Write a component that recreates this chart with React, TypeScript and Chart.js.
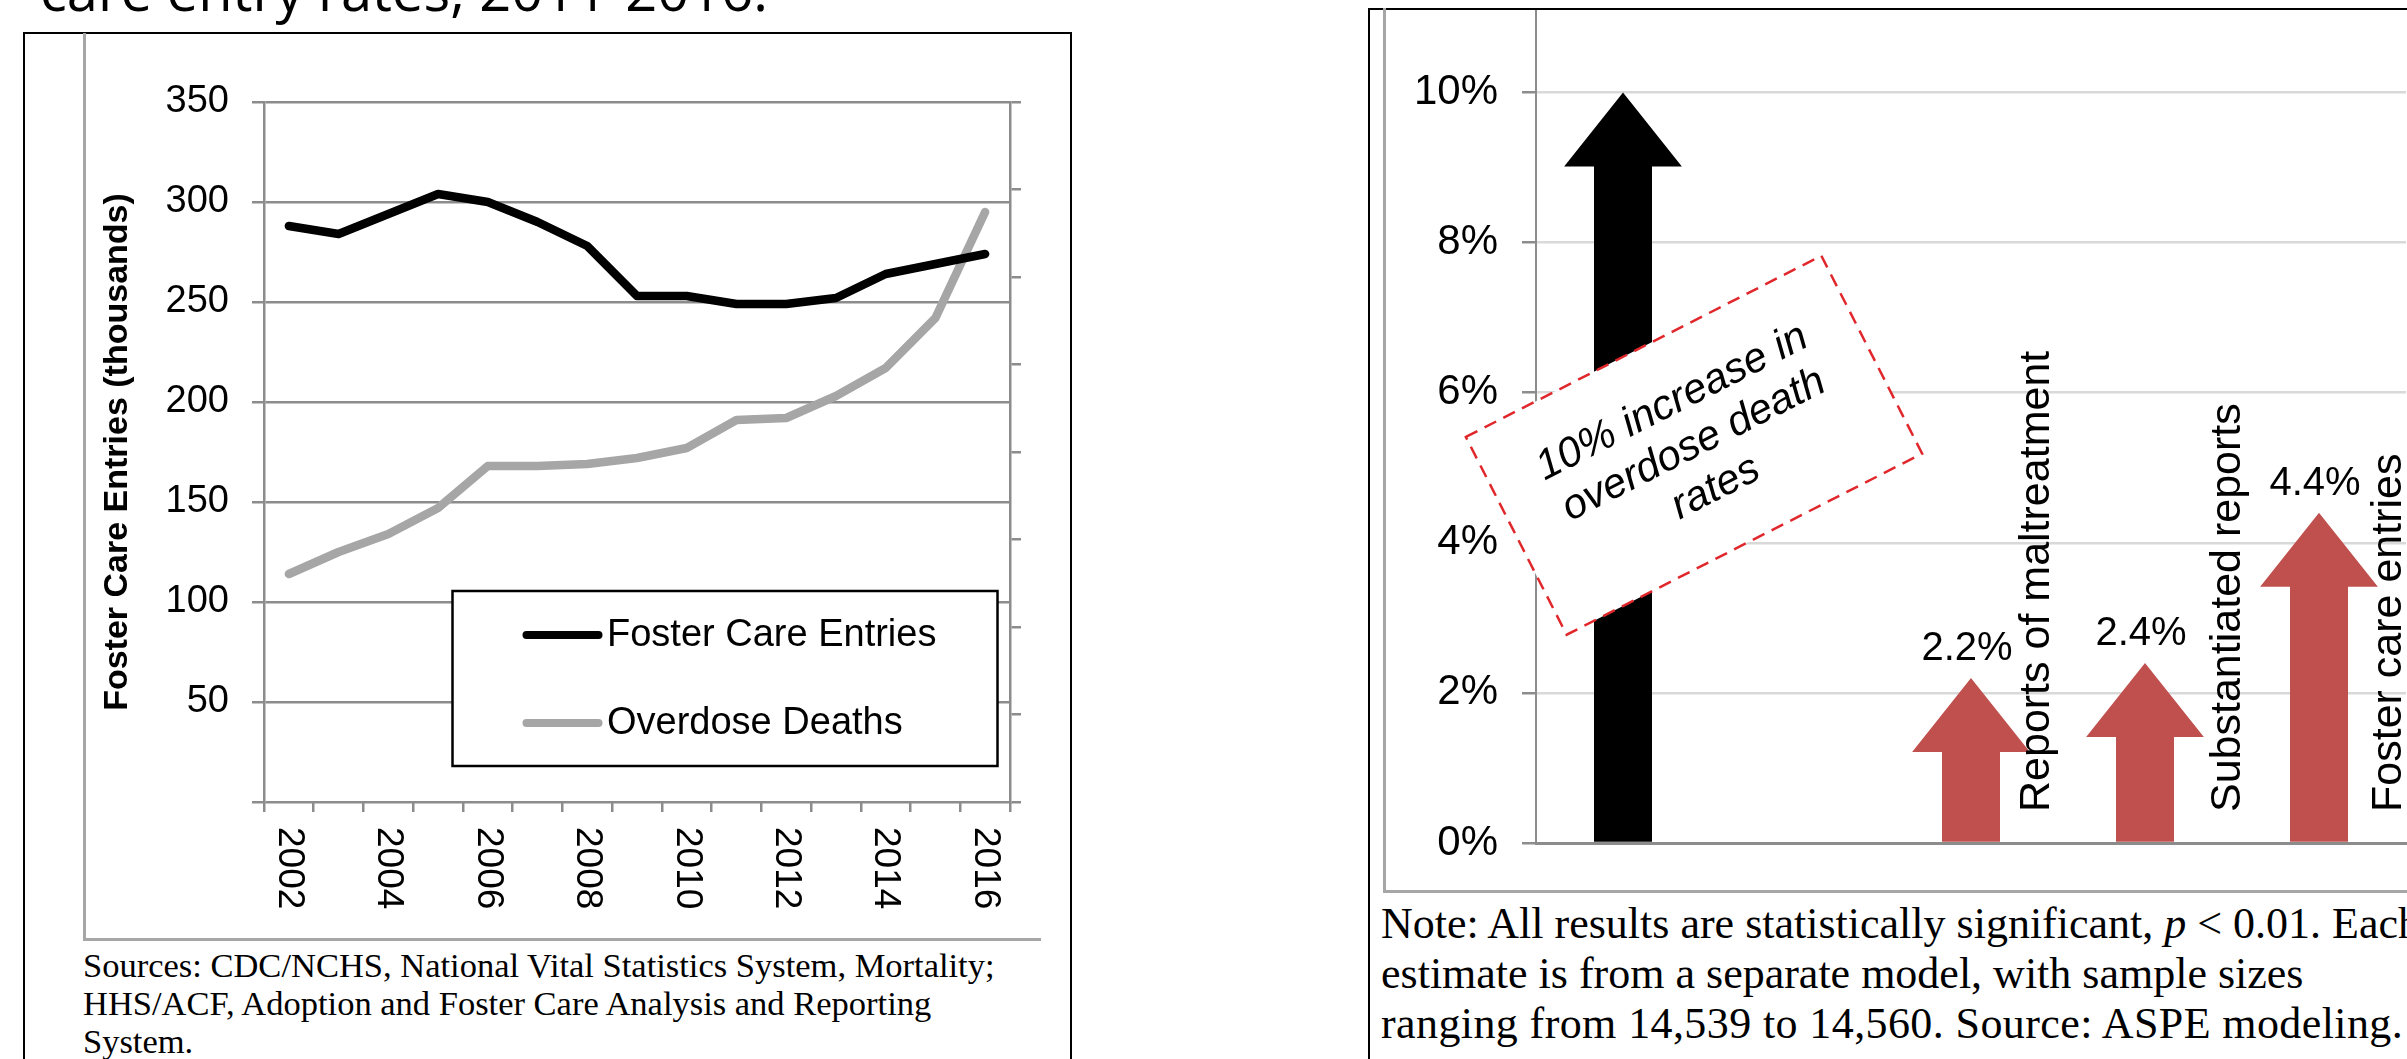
import React, { useEffect, useRef } from 'react';
import { Chart, registerables } from 'chart.js';

Chart.register(...registerables);

// ---------- data ----------
const years = ['2002', '2003', '2004', '2005', '2006', '2007', '2008', '2009', '2010', '2011', '2012', '2013', '2014', '2015', '2016'];
const fosterCareEntries = [288, 284, 294, 304, 300, 290, 278, 253, 253, 249, 249, 252, 264, 269, 274];
const overdoseDeaths = [114, 125, 134, 147, 168, 168, 169, 172, 177, 191, 192, 203, 217, 242, 295];
const leftAxisMax = 350;
const leftAxisStep = 50;
const rightAxisTickCount = 8;

const effectCategories = ['Overdose death rates', '', 'Reports of maltreatment', 'Substantiated reports', 'Foster care entries'];
const effectValues: (number | null)[] = [10, null, 2.2, 2.4, 4.4];
const effectValueLabels = ['', '', '2.2%', '2.4%', '4.4%'];
const percentTicks = [0, 2, 4, 6, 8, 10];
const exposureLines = ['10% increase in', 'overdose death', 'rates'];
const exposureBoxCenterValue = 5.3;

const titleText = 'care entry rates, 2011-2016.';
const leftCaption = [
  'Sources: CDC/NCHS, National Vital Statistics System, Mortality;',
  'HHS/ACF, Adoption and Foster Care Analysis and Reporting',
  'System.',
];

// ---------- styles ----------
const SANS = '"Liberation Sans", Arial, sans-serif';
const SERIF = '"Liberation Serif", "Times New Roman", serif';
const GRID = '#8c8c8c';
const LIGHT_GRID = '#d9d9d9';
const arrowColors = ['#000000', '#000000', '#c0504d', '#c0504d', '#c0504d'];
const categoryLabelNudges = [0, 0, 66, 83, 70];

const leftDecor = {
  id: 'leftDecor',
  afterDraw(chart: any) {
    const ctx = chart.ctx;
    const ca = chart.chartArea;
    const xs = chart.scales.x;
    ctx.save();
    // rotated year labels (every other year)
    ctx.fillStyle = '#000';
    ctx.font = `37px ${SANS}`;
    ctx.textAlign = 'left';
    ctx.textBaseline = 'middle';
    (chart.data.labels as string[]).forEach((lab, i) => {
      if (i % 2 !== 0) return;
      const x = xs.getPixelForValue(i);
      ctx.save();
      ctx.translate(x, ca.bottom + 25);
      ctx.rotate(Math.PI / 2);
      ctx.fillText(lab, 0, 0);
      ctx.restore();
    });
    // legend
    const lx = ca.left + 188.5;
    const ly = ca.top + 489;
    const lw = 545;
    const lh = 175;
    ctx.fillStyle = '#fff';
    ctx.fillRect(lx, ly, lw, lh);
    ctx.strokeStyle = '#000';
    ctx.lineWidth = 2.5;
    ctx.strokeRect(lx, ly, lw, lh);
    chart.data.datasets.forEach((ds: any, i: number) => {
      const cy = ly + 44 + i * 88;
      ctx.strokeStyle = ds.borderColor;
      ctx.lineWidth = 8;
      ctx.lineCap = 'round';
      ctx.beginPath();
      ctx.moveTo(lx + 74, cy);
      ctx.lineTo(lx + 146, cy);
      ctx.stroke();
      ctx.fillStyle = '#000';
      ctx.font = `38px ${SANS}`;
      ctx.textAlign = 'left';
      ctx.textBaseline = 'middle';
      ctx.fillText(ds.label, lx + 154.5, cy + 1);
    });
    ctx.restore();
  },
};

const arrowPlugin = {
  id: 'arrowPlugin',
  beforeDatasetsDraw() {
    return false;
  },
  afterDraw(chart: any) {
    const ctx = chart.ctx;
    const ys = chart.scales.y;
    const ca = chart.chartArea;
    const meta = chart.getDatasetMeta(0);
    ctx.save();
    const headH = 74;
    meta.data.forEach((el: any, i: number) => {
      if (effectValues[i] == null) return;
      const { x, y, base, width } = el.getProps(['x', 'y', 'base', 'width'], true);
      const headW = width * 2.03;
      ctx.fillStyle = arrowColors[i];
      ctx.beginPath();
      ctx.moveTo(x - width / 2, base);
      ctx.lineTo(x - width / 2, y + headH);
      ctx.lineTo(x - headW / 2, y + headH);
      ctx.lineTo(x, y);
      ctx.lineTo(x + headW / 2, y + headH);
      ctx.lineTo(x + width / 2, y + headH);
      ctx.lineTo(x + width / 2, base);
      ctx.closePath();
      ctx.fill();
    });
    // dashed annotation box over the first arrow
    const first = meta.data[0];
    const cx = first.x + 71;
    const cy = ys.getPixelForValue(exposureBoxCenterValue);
    ctx.save();
    ctx.translate(cx, cy);
    ctx.rotate((-27 * Math.PI) / 180);
    ctx.fillStyle = '#fff';
    ctx.fillRect(-199.5, -111, 399, 222);
    ctx.setLineDash([13, 8]);
    ctx.strokeStyle = '#e0282c';
    ctx.lineWidth = 2.5;
    ctx.strokeRect(-199.5, -111, 399, 222);
    ctx.setLineDash([]);
    ctx.fillStyle = '#000';
    ctx.font = `italic 42px ${SANS}`;
    ctx.textAlign = 'center';
    ctx.textBaseline = 'middle';
    exposureLines.forEach((l, k) => ctx.fillText(l, 0, (k - 1) * 48));
    ctx.restore();
    // value labels and rotated category labels
    meta.data.forEach((el: any, i: number) => {
      if (effectValues[i] == null || i === 0) return;
      const { x, y } = el.getProps(['x', 'y'], true);
      ctx.fillStyle = '#000';
      ctx.font = `40px ${SANS}`;
      ctx.textAlign = 'center';
      ctx.textBaseline = 'alphabetic';
      ctx.fillText(effectValueLabels[i], x - 4, y - 18);
      ctx.save();
      ctx.translate(x + categoryLabelNudges[i], ca.bottom - 31);
      ctx.rotate(-Math.PI / 2);
      ctx.font = `43px ${SANS}`;
      ctx.textAlign = 'left';
      ctx.textBaseline = 'middle';
      ctx.fillText(chart.data.labels[i], 0, 0);
      ctx.restore();
    });
    ctx.restore();
  },
};

export default function App() {
  const leftRef = useRef<HTMLCanvasElement>(null);
  const rightRef = useRef<HTMLCanvasElement>(null);

  useEffect(() => {
    const left = new Chart(leftRef.current as HTMLCanvasElement, {
      type: 'line',
      data: {
        labels: years,
        datasets: [
          {
            label: 'Foster Care Entries',
            data: fosterCareEntries,
            borderColor: '#000000',
            borderWidth: 8.5,
            pointRadius: 0,
            tension: 0,
            borderJoinStyle: 'round',
            borderCapStyle: 'round',
            yAxisID: 'y',
          },
          {
            label: 'Overdose Deaths',
            data: overdoseDeaths,
            borderColor: '#a6a6a6',
            borderWidth: 8.5,
            pointRadius: 0,
            tension: 0,
            borderJoinStyle: 'round',
            borderCapStyle: 'round',
            yAxisID: 'y',
          },
        ],
      },
      options: {
        animation: false,
        responsive: false,
        devicePixelRatio: 1,
        layout: { padding: { top: 69, left: 0, right: 0, bottom: 0 } },
        plugins: { legend: { display: false }, tooltip: { enabled: false } },
        scales: {
          x: {
            type: 'category',
            offset: true,
            grid: { offset: true, drawOnChartArea: false, drawTicks: true, tickLength: 10, color: GRID, lineWidth: 2.5 },
            border: { display: false },
            ticks: { display: false },
            afterFit: (s: any) => {
              s.height = 139;
              s.paddingLeft = 0;
              s.paddingRight = 0;
            },
          },
          y: {
            min: 0,
            max: leftAxisMax,
            ticks: {
              stepSize: leftAxisStep,
              callback: (v: any) => (v === 0 ? '' : String(v)),
              font: { family: SANS, size: 38 },
              color: '#000',
              padding: 23,
            },
            grid: { color: GRID, lineWidth: 2.5, tickLength: 12, tickColor: GRID },
            border: { color: GRID, width: 2.5 },
            title: {
              display: true,
              text: 'Foster Care Entries (thousands)',
              font: { family: SANS, size: 34, weight: 'bold' },
              color: '#000',
              padding: { top: 14, bottom: 0 },
            },
            afterFit: (s: any) => {
              s.width = 181;
              s.paddingTop = 0;
              s.paddingBottom = 0;
            },
          },
          y1: {
            position: 'right',
            min: 0,
            max: rightAxisTickCount,
            ticks: { stepSize: 1, display: false },
            grid: { drawOnChartArea: false, tickLength: 11, color: GRID, lineWidth: 2.5 },
            border: { color: GRID, width: 2.5 },
            afterFit: (s: any) => {
              s.width = 31;
              s.paddingTop = 0;
              s.paddingBottom = 0;
            },
          },
        },
      } as any,
      plugins: [leftDecor],
    });

    const right = new Chart(rightRef.current as HTMLCanvasElement, {
      type: 'bar',
      data: {
        labels: effectCategories,
        datasets: [
          {
            data: effectValues,
            backgroundColor: arrowColors,
            categoryPercentage: 1,
            barPercentage: 58 / 174,
          },
        ],
      },
      options: {
        animation: false,
        responsive: false,
        devicePixelRatio: 1,
        layout: { padding: { top: 0, left: 0, right: 27, bottom: 0 } },
        plugins: { legend: { display: false }, tooltip: { enabled: false } },
        scales: {
          x: {
            grid: { display: false },
            border: { display: true, color: GRID, width: 3 },
            ticks: { display: false },
            afterFit: (s: any) => {
              s.height = 47;
              s.paddingLeft = 0;
              s.paddingRight = 0;
            },
          },
          y: {
            min: 0,
            max: 11.1,
            afterBuildTicks: (s: any) => {
              s.ticks = percentTicks.map((v) => ({ value: v }));
            },
            ticks: {
              callback: (v: any) => `${v}%`,
              font: { family: SANS, size: 42 },
              color: '#000',
              padding: 24,
            },
            grid: {
              color: (c: any) => (c.tick && c.tick.value === 0 ? GRID : LIGHT_GRID),
              lineWidth: 2.5,
              tickLength: 14,
              tickColor: GRID,
            },
            border: { color: GRID, width: 2 },
            afterFit: (s: any) => {
              s.width = 153;
              s.paddingTop = 0;
              s.paddingBottom = 0;
            },
          },
        },
      } as any,
      plugins: [arrowPlugin],
    });

    return () => {
      left.destroy();
      right.destroy();
    };
  }, []);

  return (
    <div
      style={{
        position: 'fixed',
        left: 0,
        top: 0,
        width: 2407,
        height: 1059,
        overflow: 'hidden',
        background: '#fff',
      }}
    >
      <div
        style={{
          position: 'absolute',
          left: 40,
          top: -39,
          fontFamily: '"Open Sans", "Noto Sans", sans-serif',
          fontSize: 56,
          lineHeight: '56px',
          whiteSpace: 'nowrap',
          color: '#000',
        }}
      >
        {titleText}
      </div>

      {/* left panel */}
      <div
        style={{
          position: 'absolute',
          left: 23,
          top: 32,
          width: 1049,
          height: 1200,
          boxSizing: 'border-box',
          border: '2.5px solid #000',
        }}
      />
      <div
        style={{
          position: 'absolute',
          left: 83,
          top: 33,
          width: 958,
          height: 908,
          boxSizing: 'border-box',
          borderLeft: '3px solid #a6a6a6',
          borderBottom: '3px solid #a6a6a6',
        }}
      />
      <canvas
        ref={leftRef}
        width={958}
        height={908}
        style={{ position: 'absolute', left: 83, top: 33, width: 958, height: 908 }}
      />
      <div
        style={{
          position: 'absolute',
          left: 83,
          top: 946,
          fontFamily: SERIF,
          fontSize: 34.5,
          lineHeight: '38px',
          whiteSpace: 'nowrap',
          color: '#000',
        }}
      >
        {leftCaption.map((l, i) => (
          <div key={i}>{l}</div>
        ))}
      </div>

      {/* right panel */}
      <div
        style={{
          position: 'absolute',
          left: 1368,
          top: 8,
          width: 1200,
          height: 1200,
          boxSizing: 'border-box',
          border: '2.5px solid #000',
        }}
      />
      <div
        style={{
          position: 'absolute',
          left: 1383,
          top: 8,
          width: 1100,
          height: 885,
          boxSizing: 'border-box',
          borderLeft: '3px solid #a6a6a6',
          borderBottom: '3px solid #a6a6a6',
        }}
      />
      <canvas
        ref={rightRef}
        width={1050}
        height={880}
        style={{ position: 'absolute', left: 1383, top: 10, width: 1050, height: 880 }}
      />
      <div
        style={{
          position: 'absolute',
          left: 1381,
          top: 899,
          fontFamily: SERIF,
          fontSize: 44,
          lineHeight: '50px',
          whiteSpace: 'nowrap',
          color: '#000',
        }}
      >
        <div>
          Note: All results are statistically significant, <i>p</i> &lt; 0.01. Each
        </div>
        <div>estimate is from a separate model, with sample sizes</div>
        <div style={{ letterSpacing: 0.4 }}>ranging from 14,539 to 14,560. Source: ASPE modeling.</div>
      </div>
    </div>
  );
}
